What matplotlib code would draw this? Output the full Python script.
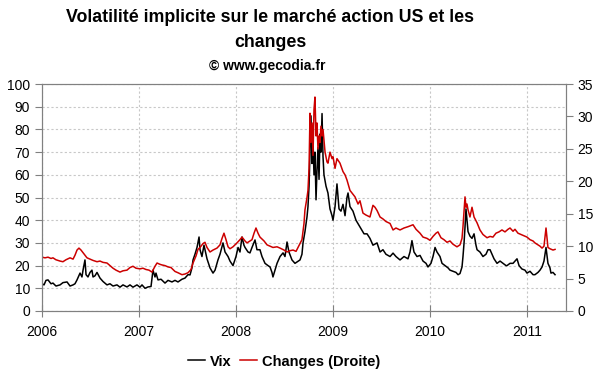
import matplotlib
matplotlib.use("Agg")
import matplotlib.pyplot as plt

plt.rcParams["font.family"] = ["Liberation Sans", "DejaVu Sans"]

# VIX (left axis)
vix_t = [2006.000, 2006.021, 2006.041, 2006.062, 2006.093, 2006.113, 2006.144, 2006.186, 2006.216,
         2006.258, 2006.289, 2006.320, 2006.340, 2006.361, 2006.392, 2006.412, 2006.423, 2006.443, 2006.454,
         2006.474, 2006.495, 2006.515, 2006.526, 2006.546, 2006.567, 2006.598, 2006.629, 2006.670, 2006.701,
         2006.732, 2006.773, 2006.804, 2006.835, 2006.876, 2006.907, 2006.938, 2006.979, 2007.010, 2007.031,
         2007.062, 2007.093, 2007.124, 2007.144, 2007.165, 2007.175, 2007.196, 2007.227, 2007.268, 2007.299,
         2007.340, 2007.371, 2007.402, 2007.443, 2007.474, 2007.505, 2007.526, 2007.546, 2007.557, 2007.577,
         2007.598, 2007.619, 2007.629, 2007.649, 2007.670, 2007.680, 2007.701, 2007.732, 2007.763, 2007.784,
         2007.814, 2007.835, 2007.866, 2007.887, 2007.918, 2007.938, 2007.969, 2008.000, 2008.021, 2008.041,
         2008.062, 2008.082, 2008.093, 2008.124, 2008.144, 2008.165, 2008.196, 2008.216, 2008.247, 2008.268,
         2008.299, 2008.330, 2008.351, 2008.371, 2008.381, 2008.402, 2008.423, 2008.454, 2008.485, 2008.505,
         2008.526, 2008.546, 2008.577, 2008.608, 2008.629, 2008.660, 2008.680, 2008.691, 2008.711, 2008.732,
         2008.742, 2008.753, 2008.763, 2008.773, 2008.784, 2008.794, 2008.804, 2008.814, 2008.825, 2008.835,
         2008.845, 2008.856, 2008.866, 2008.876, 2008.887, 2008.897, 2008.907, 2008.928, 2008.948, 2008.969,
         2008.990, 2009.000, 2009.021, 2009.041, 2009.062, 2009.082, 2009.103, 2009.124, 2009.144, 2009.155,
         2009.175, 2009.206, 2009.237, 2009.278, 2009.320, 2009.351, 2009.381, 2009.412, 2009.454, 2009.485,
         2009.515, 2009.546, 2009.588, 2009.619, 2009.649, 2009.691, 2009.732, 2009.773, 2009.794, 2009.814,
         2009.835, 2009.866, 2009.897, 2009.928, 2009.959, 2009.979, 2010.010, 2010.031, 2010.052, 2010.072,
         2010.103, 2010.124, 2010.155, 2010.186, 2010.206, 2010.237, 2010.268, 2010.289, 2010.309, 2010.330,
         2010.340, 2010.351, 2010.361, 2010.371, 2010.381, 2010.392, 2010.412, 2010.433, 2010.454, 2010.474,
         2010.485, 2010.515, 2010.546, 2010.577, 2010.598, 2010.619, 2010.639, 2010.660, 2010.691, 2010.722,
         2010.753, 2010.784, 2010.794, 2010.825, 2010.856, 2010.876, 2010.897, 2010.918, 2010.948, 2010.979,
         2011.000, 2011.031, 2011.062, 2011.082, 2011.113, 2011.134, 2011.155, 2011.175, 2011.196, 2011.216,
         2011.237, 2011.247, 2011.268, 2011.289]
vix = [12, 11.5, 13.5, 13.7, 12, 12.3, 11, 11.5, 12.5, 12.8,
       11, 11.5, 12, 13.7, 16.7, 15, 18, 22.5, 16, 15,
       17, 18, 15, 15.5, 17, 14.5, 13, 11.5, 12, 11,
       11.5, 10.5, 11.5, 10.6, 11.5, 10.5, 11.5, 10.5, 11.5, 10,
       10.6, 10.8, 18, 15, 16.7, 13.7, 14, 12.3, 13.5, 12.8,
       13.5, 12.8, 14, 14.5, 16, 15.9, 19, 22.5, 25, 28,
       32.6, 27, 24, 29, 27, 23, 19, 16.7, 18, 22.5,
       25, 30, 26, 24, 22, 20, 24, 28, 26, 32.6,
       29, 28, 26, 25.6, 28, 31.3, 27, 27, 24, 21,
       20, 19.4, 17, 15, 18, 21, 24, 25.6, 24, 30.4,
       26, 22.5, 21, 21.6, 22.5, 25, 30, 35, 41.5, 46,
       55, 70, 86, 65, 75, 60, 70, 49, 62, 72,
       58, 78, 70, 87, 68, 60, 55, 52, 45, 42,
       40, 46, 56, 45, 44, 47, 42, 50, 52, 46,
       44, 40, 37, 34, 34, 32, 29, 30, 26, 27,
       25, 24, 25.5, 24, 22.5, 24, 23, 26, 31, 26,
       24, 24.5, 22, 21, 19.4, 21, 24, 28, 26, 24,
       21, 20, 19, 18, 17.5, 17, 16, 16.5, 19.4, 24,
       30, 37, 45, 40, 35, 33, 32, 34, 29, 27,
       26, 24, 25, 27, 27, 25, 23, 21, 22, 21,
       20, 20, 21, 21, 22, 23, 20, 18.5, 18, 16.7,
       17.5, 16, 16, 17, 18, 19.4, 22, 28, 21, 19,
       16.7, 17, 16]

# Changes / FX implied volatility (right axis)
fx_t = [2006.000, 2006.031, 2006.062, 2006.093, 2006.113, 2006.144, 2006.186, 2006.216, 2006.247, 2006.289,
        2006.320, 2006.340, 2006.361, 2006.381, 2006.402, 2006.433, 2006.464, 2006.495, 2006.526, 2006.567,
        2006.598, 2006.629, 2006.670, 2006.701, 2006.732, 2006.763, 2006.804, 2006.835, 2006.876, 2006.907,
        2006.938, 2006.969, 2007.010, 2007.041, 2007.072, 2007.103, 2007.134, 2007.165, 2007.186, 2007.216,
        2007.237, 2007.268, 2007.299, 2007.330, 2007.371, 2007.402, 2007.443, 2007.474, 2007.505, 2007.536,
        2007.557, 2007.588, 2007.608, 2007.629, 2007.660, 2007.680, 2007.701, 2007.732, 2007.763, 2007.804,
        2007.835, 2007.856, 2007.876, 2007.897, 2007.918, 2007.938, 2007.969, 2008.010, 2008.041, 2008.062,
        2008.093, 2008.113, 2008.144, 2008.165, 2008.186, 2008.206, 2008.227, 2008.247, 2008.289, 2008.320,
        2008.351, 2008.381, 2008.423, 2008.454, 2008.495, 2008.526, 2008.557, 2008.588, 2008.619, 2008.639,
        2008.660, 2008.680, 2008.701, 2008.711, 2008.732, 2008.742, 2008.753, 2008.763, 2008.773, 2008.784,
        2008.794, 2008.804, 2008.814, 2008.825, 2008.835, 2008.845, 2008.856, 2008.866, 2008.876, 2008.887,
        2008.897, 2008.918, 2008.938, 2008.948, 2008.969, 2008.990, 2009.000, 2009.021, 2009.041, 2009.072,
        2009.103, 2009.124, 2009.144, 2009.175, 2009.206, 2009.227, 2009.258, 2009.278, 2009.309, 2009.340,
        2009.381, 2009.412, 2009.433, 2009.454, 2009.485, 2009.515, 2009.546, 2009.588, 2009.619, 2009.649,
        2009.691, 2009.732, 2009.773, 2009.825, 2009.856, 2009.897, 2009.928, 2009.969, 2010.000, 2010.031,
        2010.062, 2010.082, 2010.113, 2010.144, 2010.175, 2010.206, 2010.237, 2010.278, 2010.309, 2010.330,
        2010.340, 2010.351, 2010.361, 2010.371, 2010.381, 2010.392, 2010.412, 2010.433, 2010.454, 2010.485,
        2010.515, 2010.546, 2010.588, 2010.619, 2010.649, 2010.680, 2010.711, 2010.742, 2010.773, 2010.804,
        2010.825, 2010.856, 2010.876, 2010.907, 2010.938, 2010.969, 2011.000, 2011.031, 2011.062, 2011.082,
        2011.113, 2011.134, 2011.155, 2011.175, 2011.196, 2011.216, 2011.237, 2011.268, 2011.289]
fx = [8.3, 8.2, 8.3, 8.1, 8.2, 7.9, 7.7, 7.6, 7.9, 8.2,
      8.0, 8.6, 9.4, 9.7, 9.4, 8.8, 8.2, 8.0, 7.8, 7.6,
      7.7, 7.5, 7.4, 7.0, 6.6, 6.3, 6.0, 6.2, 6.3, 6.7,
      6.9, 6.6, 6.5, 6.6, 6.4, 6.3, 6.0, 6.9, 7.4, 7.2,
      7.1, 7.0, 6.8, 6.7, 6.1, 5.9, 5.6, 5.7, 5.9, 6.4,
      7.4, 8.5, 9.5, 9.8, 10.4, 10.6, 9.8, 9.1, 9.4, 9.7,
      10.2, 11.2, 12.0, 11.0, 9.9, 9.6, 9.9, 10.5, 11.0, 11.4,
      10.8, 10.5, 10.8, 11.0, 12.0, 12.8, 12.0, 11.4, 10.8, 10.2,
      10.0, 9.8, 9.9, 9.7, 9.4, 9.1, 9.3, 9.4, 9.2, 9.8,
      10.4, 11.0, 13.5, 15.6, 17.5, 18.6, 22, 30.5, 26, 29,
      24, 31, 33, 27, 29, 25, 27, 26, 28.5, 27,
      28, 24.5, 23, 22.8, 24.5, 23.5, 23.8, 22, 23.5, 22.8,
      21.5, 21, 20.2, 18.6, 18, 17.6, 16.5, 17, 15.1, 14.8,
      14.5, 16.3, 16, 15.5, 14.5, 14.2, 13.8, 13.5, 12.5, 12.8,
      12.5, 12.8, 13.0, 13.3, 12.6, 12.0, 11.4, 11.2, 10.9, 11.5,
      12.0, 12.2, 11.3, 11.0, 10.6, 10.8, 10.3, 9.9, 10.2, 11.2,
      13.0, 15.5, 17.6, 16, 16.5, 15.6, 14.5, 16.0, 14.5, 13.6,
      12.5, 11.8, 11.3, 11.5, 11.4, 12.0, 12.2, 12.5, 12.2, 12.6,
      12.8, 12.3, 12.6, 12.0, 11.8, 11.6, 11.4, 11.0, 10.8, 10.5,
      10.2, 10.0, 9.7, 10.0, 12.8, 9.8, 9.6, 9.4, 9.5]

years = [2006, 2007, 2008, 2009, 2010, 2011]
red = "#cc0000"
frame = "#808080"

fig = plt.figure(figsize=(6, 3.72), dpi=100)
ax = fig.add_axes([0.07, 0.164, 0.873, 0.61])
ax2 = ax.twinx()

l1, = ax.plot(vix_t, vix, color="black", lw=1.1, label="Vix")
l2, = ax2.plot(fx_t, fx, color=red, lw=1.1, label="Changes (Droite)")

ax.set_xlim(2006, 2011.4)
ax.set_ylim(0, 100)
ax2.set_ylim(0, 35)
ax.set_xticks(years)
ax.set_xticklabels([str(y) for y in years])
ax.set_yticks(range(0, 101, 10))
ax2.set_yticks(range(0, 36, 5))

ax.grid(True, color="#c8c8c8", ls=(0, (2, 2)), lw=0.8)
for a in (ax, ax2):
    for s in a.spines.values():
        s.set_color(frame)
    a.tick_params(colors=frame, labelcolor="black", labelsize=10, length=5)
ax.tick_params(axis="x", direction="inout", length=8, pad=6)

fig.text(0.45, 0.952, "Volatilité implicite sur le marché action US et les",
         ha="center", va="center", fontsize=12.8, fontweight="bold")
fig.text(0.45, 0.887, "changes", ha="center", va="center", fontsize=12.8, fontweight="bold")
fig.text(0.445, 0.823, "© www.gecodia.fr", ha="center", va="center", fontsize=10, fontweight="bold")

fig.legend(handles=[l1, l2], loc="center", bbox_to_anchor=(0.473, 0.028), ncol=2, frameon=False,
           prop={"weight": "bold", "size": 10.5}, handlelength=1.2, handletextpad=0.3, columnspacing=0.6)

fig.savefig("out.png", dpi=100)
